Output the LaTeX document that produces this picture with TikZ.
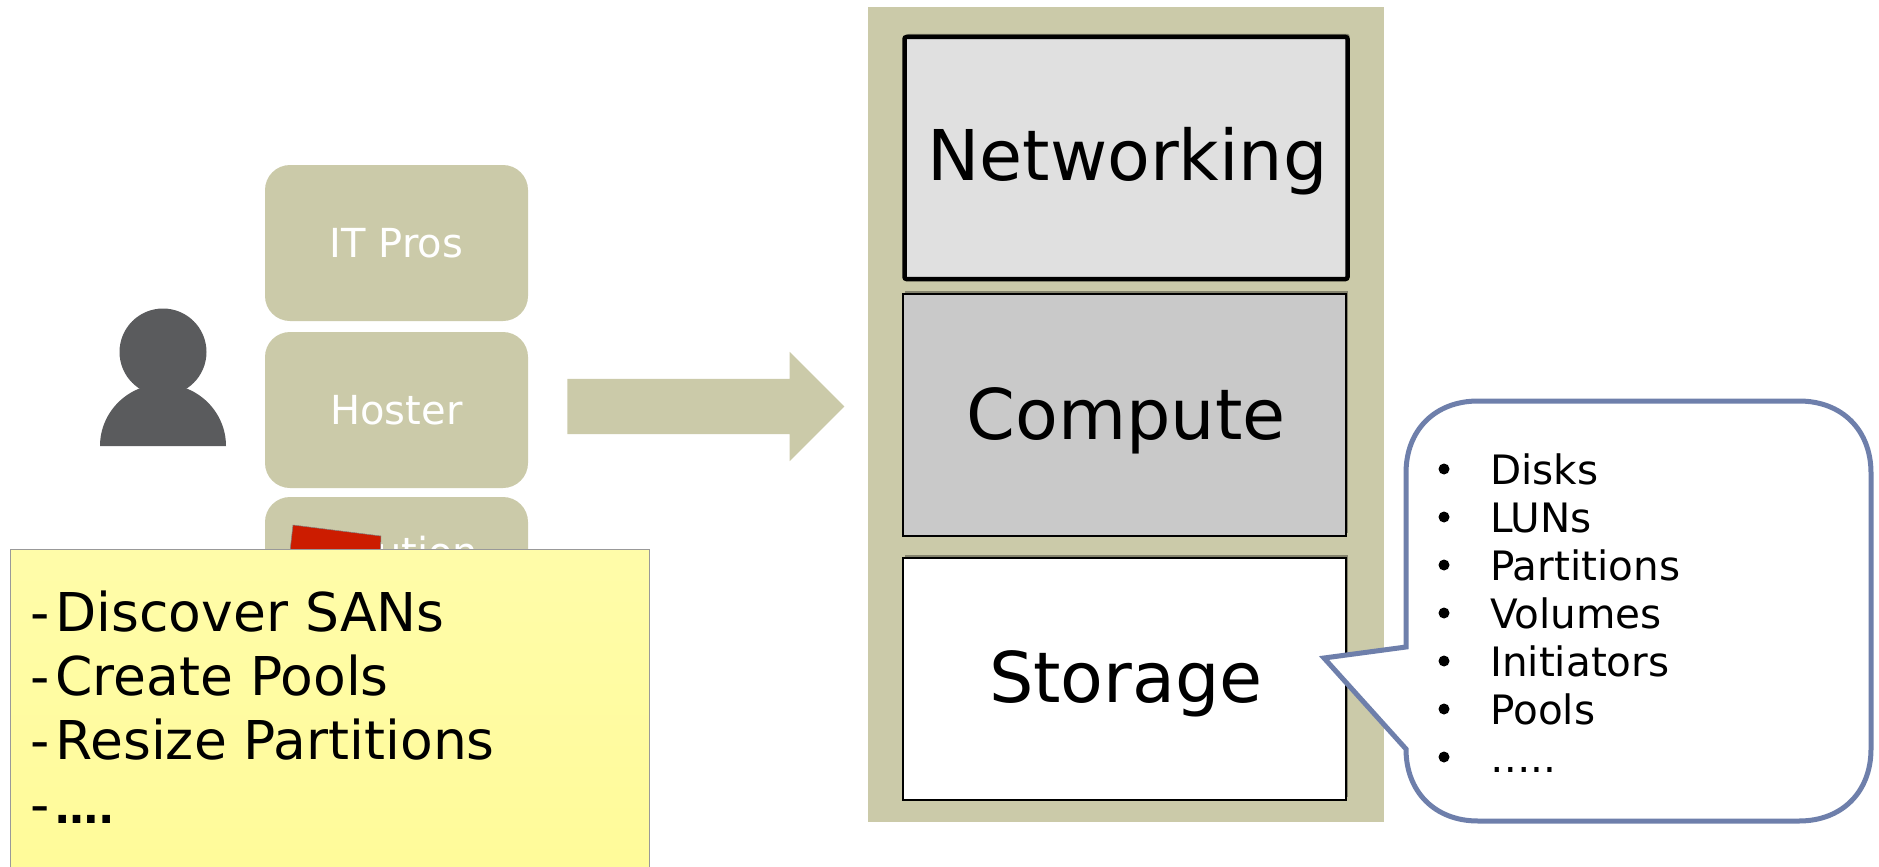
\documentclass[tikz,border=0pt]{standalone}
\usepackage{fontspec}
\setmainfont{DejaVu Sans}
\usetikzlibrary{shapes.arrows,shadows}
\definecolor{khaki}{HTML}{CBCAA9}
\definecolor{slateline}{HTML}{6E7FAB}
\definecolor{personfill}{HTML}{5A5B5D}
\definecolor{redpatch}{HTML}{CC1C00}
\definecolor{notetop}{HTML}{FFFCA9}
\definecolor{notebottom}{HTML}{FFFB99}
\newcommand{\layertext}[2]{\hspace{3pt}\raisebox{0pt}[\dimexpr\height+#1pt]{#2}}
\tikzset{
  rolebox/.style={rectangle, rounded corners=25, fill=khaki, minimum width=263, minimum height=156, text=white, inner sep=0, font=\fontsize{40}{40}\selectfont},
  layerbox/.style={rectangle, draw=black, fill=white, line width=1.8, minimum width=443, minimum height=242, inner sep=0, font=\fontsize{70}{70}\selectfont, drop shadow={shadow xshift=2, shadow yshift=-3, opacity=.35, fill=black}},
  listitem/.style={anchor=base west, inner sep=0, font=\fontsize{40.5}{40.5}\selectfont},
  listdot/.style={circle, fill=black, inner sep=0, minimum size=11},
  noteline/.style={anchor=base west, inner sep=0, font=\fontsize{53.5}{53.5}\selectfont},
}
\begin{document}
\begin{tikzpicture}[x=1pt, y=-1pt]
\useasboundingbox (0,0) rectangle (1879,867);
\node[rolebox] (itpros) at (396.5,243){IT Pros};
\node[rolebox] (hoster) at (396.5,410){Hoster};
\node[rolebox] (third) at (396.5,575){};
\node[text=white, inner sep=0, font=\fontsize{40}{40}\selectfont, anchor=base] (thirdtext) at (427,566){ution};
\fill[redpatch, draw=gray, line width=.5] (293,525) -- (381,536) -- (380,560) -- (289,560) -- cycle;
\fill[personfill] (163,352) ellipse (43.5 and 43.5);
\fill[personfill] (100,446) .. controls (100,412) and (128,384) .. (163,384) .. controls (198,384) and (226,412) .. (226,446) -- cycle;
\node[single arrow, fill=khaki, inner xsep=0, inner ysep=27.5, minimum height=277, minimum width=109, single arrow head extend=27, single arrow head indent=0] (flow) at (692,406.5){};
\node[rectangle, fill=khaki, minimum width=516, minimum height=815, inner sep=0] (stack) at (1126,414.5){};
\node[layerbox, fill=white!88!black, line width=4.5, rounded corners=2, minimum width=443, minimum height=242, drop shadow={opacity=0}] (networking) at (1126,158){\layertext{7}{Networking}};
\node[layerbox, fill=white!79!black] (compute) at (1124.5,415){\layertext{12}{Compute}};
\node[layerbox] (storage) at (1124.5,679){\layertext{10}{Storage}};
\node[rectangle, draw=black!40, top color=notetop, bottom color=notebottom, minimum width=639, minimum height=330, inner sep=0, anchor=north west, line width=1] (note) at (10,549){};
\node[noteline] (note1) at (30,631){-\hspace{6pt}Discover SANs};
\node[noteline] (note2) at (30,695){-\hspace{6pt}Create Pools};
\node[noteline] (note3) at (30,759){-\hspace{6pt}Resize Partitions};
\node[noteline] (note4) at (30,823){-\hspace{6pt}{\fontsize{43}{43}\selectfont\bfseries ….}};
\coordinate (tip) at (1324,658);
\draw[slateline, line width=5, fill=white, line join=miter] (1406,647) -- (tip) -- (1406,749) .. controls (1406,792) and (1435,821) .. (1478,821) -- (1799,821) .. controls (1842,821) and (1871,792) .. (1871,749) -- (1871,473) .. controls (1871,430) and (1842,401) .. (1799,401) -- (1478,401) .. controls (1435,401) and (1406,430) .. (1406,473) -- cycle;
\node[listdot] (dot1) at (1444,469){};
\node[listdot] (dot2) at (1444,517){};
\node[listdot] (dot3) at (1444,565){};
\node[listdot] (dot4) at (1444,613){};
\node[listdot] (dot5) at (1444,661){};
\node[listdot] (dot6) at (1444,709){};
\node[listdot] (dot7) at (1444,757){};
\node[listitem] (item1) at (1490,484){Disks};
\node[listitem] (item2) at (1490,532){LUNs};
\node[listitem] (item3) at (1490,580){Partitions};
\node[listitem] (item4) at (1490,628){Volumes};
\node[listitem] (item5) at (1490,676){Initiators};
\node[listitem] (item6) at (1490,724){Pools};
\node[listitem] (item7) at (1490,772){…..};
\end{tikzpicture}
\end{document}
